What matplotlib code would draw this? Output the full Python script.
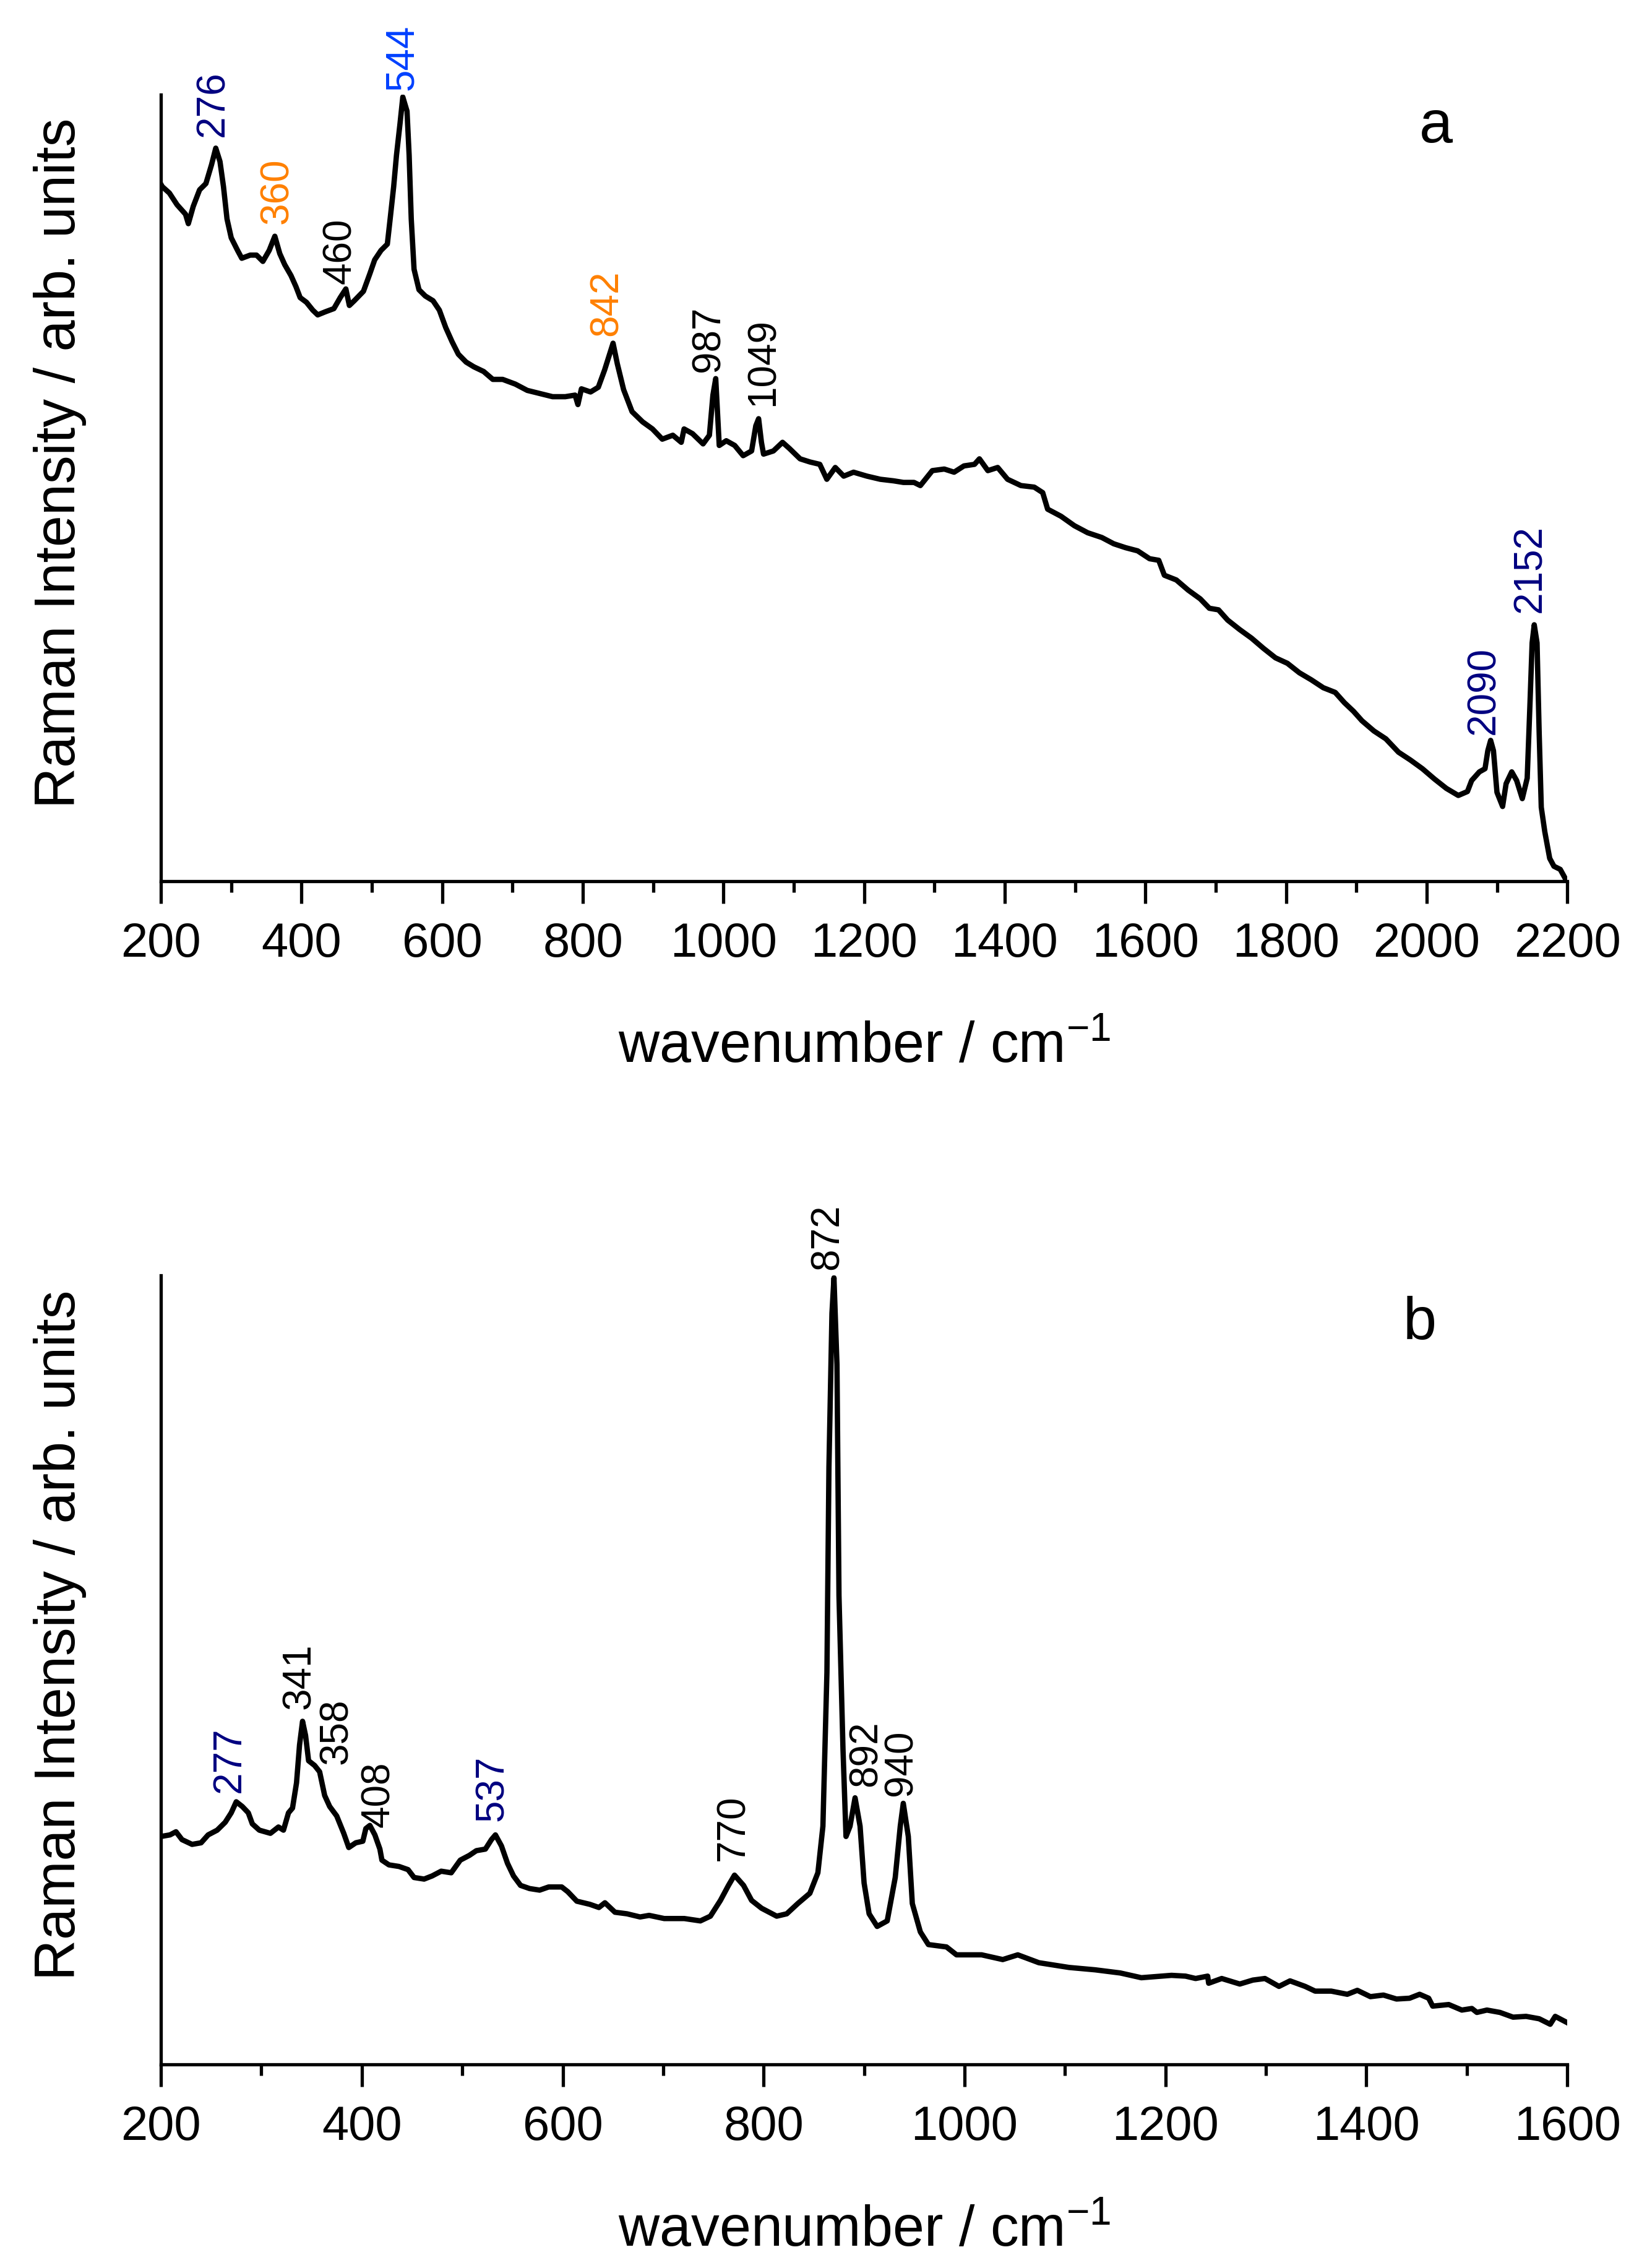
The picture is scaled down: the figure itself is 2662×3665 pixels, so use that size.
import matplotlib
matplotlib.use("Agg")
import matplotlib.pyplot as plt
from matplotlib.ticker import MultipleLocator

plt.rcParams['font.family'] = ['Liberation Sans', 'DejaVu Sans']
plt.rcParams['mathtext.fontset'] = 'custom'
plt.rcParams['mathtext.rm'] = 'Liberation Sans'
plt.rcParams['mathtext.it'] = 'Liberation Sans:italic'

# panel a spectrum (arb. units 0-100)
wn_a = [200, 202, 212, 223, 235, 239, 246, 255, 264, 272, 278, 284, 289, 294, 300,
        309, 315, 327, 336, 345, 354, 362, 369, 376, 385, 392, 398, 407, 416, 423,
        434, 446, 455, 463, 468, 475, 488, 497, 504, 513, 522, 526, 531, 535, 540,
        544, 550, 553, 556, 560, 567, 576, 587, 596, 605, 614, 623, 634, 645, 659,
        672, 686, 704, 721, 739, 757, 775, 789, 793, 798, 811, 822, 831, 843, 849,
        858, 870, 885, 899, 913, 928, 940, 944, 956, 971, 980, 985, 989, 992, 994,
        1004, 1016, 1028, 1040, 1046, 1050, 1054, 1057, 1071, 1084, 1094, 1109, 1123,
        1137, 1147, 1159, 1171, 1185, 1204, 1223, 1242, 1256, 1271, 1280, 1297, 1314,
        1328, 1342, 1357, 1364, 1376, 1390, 1404, 1423, 1442, 1454, 1461, 1480, 1499,
        1518, 1538, 1555, 1572, 1589, 1606, 1619, 1627, 1644, 1661, 1678, 1691, 1704,
        1717, 1734, 1751, 1768, 1785, 1802, 1819, 1836, 1853, 1870, 1883, 1896, 1908,
        1925, 1942, 1960, 1977, 1994, 2011, 2028, 2045, 2058, 2064, 2075, 2083, 2087,
        2091, 2095, 2100, 2108, 2113, 2121, 2128, 2136, 2143, 2147, 2150, 2153, 2157,
        2160, 2163, 2168, 2175, 2181, 2190, 2198]
int_a = [88.6, 88.3, 87.5, 86.0, 84.8, 83.6, 85.8, 87.9, 88.7, 91.1, 93.2, 91.5, 88.3, 84.2, 81.8,
         80.2, 79.2, 79.6, 79.6, 78.8, 80.2, 82.0, 79.8, 78.4, 77.0, 75.6, 74.2, 73.6, 72.6, 72.0,
         72.4, 72.8, 74.2, 75.3, 73.2, 73.8, 75.0, 77.2, 79.0, 80.2, 81.0, 84.2, 88.3, 92.3, 96.3,
         99.7, 97.9, 92.3, 84.2, 77.8, 75.2, 74.4, 73.8, 72.6, 70.4, 68.6, 67.0, 66.0, 65.4, 64.8,
         63.8, 63.8, 63.2, 62.4, 62.0, 61.6, 61.6, 61.8, 60.6, 62.6, 62.2, 62.8, 65.0, 68.4, 65.8,
         62.5, 59.7, 58.4, 57.5, 56.2, 56.7, 55.8, 57.5, 56.9, 55.6, 56.7, 61.8, 63.9, 58.8, 55.4,
         56.0, 55.4, 54.1, 54.7, 57.9, 58.8, 55.8, 54.3, 54.7, 55.8, 55.0, 53.7, 53.3,
         53.0, 51.1, 52.6, 51.5, 52.0, 51.5, 51.1, 50.9, 50.7, 50.7, 50.3, 52.2, 52.4,
         52.0, 52.8, 53.0, 53.7, 52.2, 52.6, 51.1, 50.3, 50.1, 49.4, 47.3, 46.4, 45.2,
         44.3, 43.7, 42.9, 42.4, 42.0, 41.0, 40.8, 38.9, 38.3, 37.0, 35.9, 34.7, 34.5,
         33.2, 32.0, 30.9, 29.6, 28.4, 27.7, 26.5, 25.6, 24.6, 24.0, 22.7, 21.6, 20.4,
         19.1, 18.1, 16.4, 15.4, 14.3, 13.0, 11.8, 10.9, 11.4, 12.8, 13.9, 14.3, 16.6,
         17.9, 16.6, 11.3, 9.5, 12.4, 13.9, 12.8, 10.5, 13.1, 22.7, 30.3, 32.6, 30.3,
         18.9, 9.4, 6.3, 2.9, 1.9, 1.5, 0.2]

# panel b spectrum
wn_b = [200, 209, 215, 221, 231, 240, 247, 256, 264, 270, 275, 281, 287, 291, 298,
        309, 317, 322, 327, 331, 335, 338, 341, 344, 347, 353, 358, 363, 368, 375,
        382, 387, 394, 401, 404, 408, 413, 418, 420, 427, 437, 446, 452, 462, 470,
        479, 489, 498, 507, 514, 523, 529, 533, 539, 545, 551, 558, 567, 577, 586,
        599, 605, 614, 627, 636, 642, 652, 664, 677, 686, 701, 721, 737, 747, 757,
        765, 771, 780, 788, 798, 813, 823, 834, 846, 854, 859, 863, 865, 868, 870,
        873, 875, 879, 882, 886, 891, 896, 900, 905, 913, 923, 931, 936, 939, 944,
        948, 956, 964, 982, 992, 1017, 1038, 1053, 1074, 1104, 1130, 1155, 1176, 1206,
        1220, 1230, 1242, 1243, 1256, 1274, 1287, 1299, 1313, 1324, 1339, 1349, 1365,
        1381, 1391, 1404, 1417, 1430, 1443, 1453, 1462, 1466, 1482, 1495, 1505, 1510,
        1520, 1533, 1546, 1559, 1572, 1583, 1588, 1600]
int_b = [28.9, 29.1, 29.5, 28.5, 27.9, 28.1, 29.1, 29.7, 30.7, 31.9, 33.3, 32.7, 31.9, 30.5, 29.7,
         29.3, 30.1, 29.7, 31.9, 32.5, 35.7, 40.5, 43.5, 41.7, 38.5, 37.9, 37.1, 34.1, 32.7, 31.5,
         29.3, 27.5, 28.1, 28.3, 29.9, 30.3, 29.1, 27.3, 25.9, 25.3, 25.1, 24.7, 23.7, 23.5, 23.9,
         24.5, 24.3, 25.9, 26.5, 27.1, 27.3, 28.5, 29.1, 27.7, 25.5, 23.9, 22.7, 22.3, 22.1, 22.5,
         22.5, 21.9, 20.7, 20.3, 19.9, 20.5, 19.3, 19.1, 18.7, 18.9, 18.5, 18.5, 18.2, 18.8, 20.8,
         22.7, 24.0, 22.7, 20.8, 19.8, 18.8, 19.1, 20.4, 21.7, 24.3, 30.2, 49.7, 75.7, 95.2, 99.7,
         88.7, 59.4, 39.9, 28.9, 30.2, 33.8, 30.2, 23.0, 19.1, 17.5, 18.2, 23.7, 30.2, 33.1, 28.9,
         20.4, 16.8, 15.2, 14.9, 13.9, 13.9, 13.3, 13.9, 12.9, 12.3, 12.0, 11.6, 11.0, 11.3,
         11.2, 10.9, 11.2, 10.3, 10.9, 10.2, 10.7, 10.9, 9.9, 10.6, 9.9, 9.3, 9.3,
         8.9, 9.4, 8.6, 8.8, 8.3, 8.4, 8.9, 8.4, 7.4, 7.6, 6.9, 7.1, 6.6,
         6.9, 6.6, 6.0, 6.1, 5.8, 5.1, 6.1, 5.3]

# peak labels: text, x, y of label foot, colour
NAVY = '#000080'
BLUE = '#0040ff'
ORANGE = '#ff8000'
labels_a = ['276', '360', '460', '544', '842', '987', '1049', '2090', '2152']
lab_x_a = [274, 365, 455, 543, 834, 979, 1057, 2081, 2147]
lab_y_a = [94.7, 83.6, 76.0, 100.6, 69.4, 64.8, 60.5, 18.7, 34.2]
lab_c_a = [NAVY, ORANGE, 'black', BLUE, ORANGE, 'black', 'black', NAVY, NAVY]

labels_b = ['277', '341', '358', '408', '537', '770', '872', '892', '940']
lab_x_b = [268, 338, 375, 417, 530, 770, 864, 902, 937]
lab_y_b = [34.5, 45.1, 38.1, 30.1, 30.9, 25.9, 100.8, 35.3, 34.1]
lab_c_b = [NAVY, 'black', 'black', 'black', NAVY, 'black', 'black', 'black', 'black']

fig = plt.figure(figsize=(26.62, 36.66), dpi=100)
ax_a = fig.add_axes([0.0977, 0.6113, 0.8539, 0.3467])
ax_b = fig.add_axes([0.0977, 0.0897, 0.8539, 0.3478])

panels = [
    (ax_a, wn_a, int_a, (200, 2200), labels_a, lab_x_a, lab_y_a, lab_c_a, 'a', 2013, 94.0, 0.532),
    (ax_b, wn_b, int_b, (200, 1600), labels_b, lab_x_b, lab_y_b, lab_c_b, 'b', 1453, 92.0, 0.545),
]

for ax, x, y, xl, labs, lx, ly, lc, tag, tx, ty, ylab_y in panels:
    ax.plot(x, y, color='black', lw=6.2, solid_joinstyle='round')
    ax.set_xlim(*xl)
    ax.set_ylim(0, 100)
    ax.spines['top'].set_visible(False)
    ax.spines['right'].set_visible(False)
    ax.spines['left'].set_linewidth(3.8)
    ax.spines['bottom'].set_linewidth(3.8)
    ax.xaxis.set_major_locator(MultipleLocator(200))
    ax.xaxis.set_minor_locator(MultipleLocator(100))
    ax.tick_params(axis='x', which='major', direction='out', length=26, width=3.8,
                   labelsize=56, pad=20)
    ax.tick_params(axis='x', which='minor', direction='out', length=13, width=3.8)
    ax.set_yticks([])
    ax.set_xlabel(r'wavenumber / cm$^{-1}$', fontsize=66)
    ax.xaxis.set_label_coords(0.5, -0.176)
    ax.set_ylabel('Raman Intensity / arb. units', fontsize=66)
    ax.yaxis.set_label_coords(-0.053, ylab_y)
    for t, px, py, c in zip(labs, lx, ly, lc):
        ax.text(px, py, t, rotation=90, ha='center', va='bottom', color=c,
                fontsize=46, clip_on=False)
    ax.text(tx, ty, tag, ha='center', va='baseline', fontsize=70)

fig.savefig('out.png', dpi=100)
